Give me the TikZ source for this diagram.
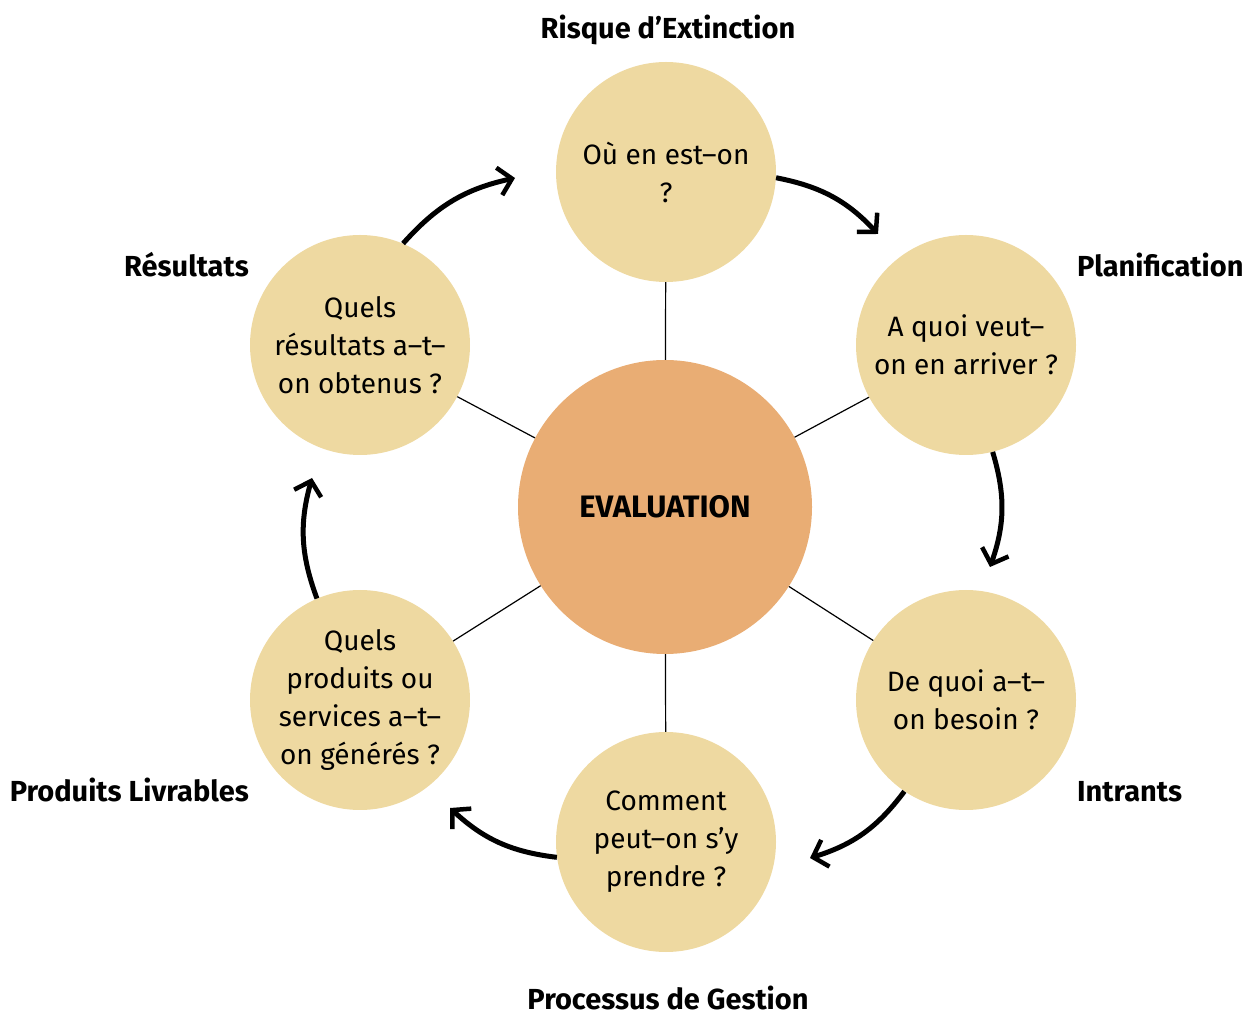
\documentclass[tikz,border=0pt]{standalone}
\usepackage{fontspec}
\setmainfont{Fira Sans}
\usetikzlibrary{arrows.meta}
\definecolor{sat}{HTML}{EED9A1}
\definecolor{mid}{HTML}{E9AD74}
\tikzset{
  satnode/.style={circle,fill=sat,minimum size=220pt,inner sep=0pt,align=center,
    font=\fontsize{28}{38}\selectfont},
  midnode/.style={circle,fill=mid,minimum size=294pt,inner sep=0pt,
    font=\fontsize{31}{36}\selectfont\bfseries},
  title/.style={font=\fontsize{29}{34}\selectfont\bfseries,inner sep=0pt},
  spoke/.style={line width=1.2pt},
  cyc/.style={line width=5pt,-{Straight Barb[length=13pt,width=28pt,line width=4.5pt]},bend left=18}
}
\begin{document}
\begin{tikzpicture}[x=1pt,y=1pt]
\useasboundingbox (0,0) rectangle (1250,1015);
\node[midnode] (c) at (665,508) {EVALUATION};
\node[satnode] (n1) at (666,843) {Où en est–on\\?};
\node[satnode] (n2) at (966,670) {A quoi veut–\\on en arriver ?};
\node[satnode] (n3) at (966,315) {De quoi a–t–\\on besoin ?};
\node[satnode] (n4) at (666,173) {Comment\\peut–on s’y\\prendre ?};
\node[satnode] (n5) at (360,315) {Quels\\produits ou\\services a–t–\\on générés ?};
\node[satnode] (n6) at (360,670) {Quels\\résultats a–t–\\on obtenus ?};
\foreach \n in {n1,n2,n3,n4,n5,n6} \draw[spoke] (c) -- (\n);
\node[title,anchor=base] (t1) at (668,976) {Risque d’Extinction};
\node[title,anchor=base west] (t2) at (1077,738) {Planification};
\node[title,anchor=base west] (t3) at (1077,213) {Intrants};
\node[title,anchor=base] (t4) at (668,6) {Processus de Gestion};
\node[title,anchor=base east] (t5) at (249,213) {Produits Livrables};
\node[title,anchor=base east] (t6) at (249,738) {Résultats};
\coordinate (e1) at (878,781);
\coordinate (e2) at (990,448);
\coordinate (e3) at (810,157);
\coordinate (e4) at (450,207);
\coordinate (e5) at (312,537);
\coordinate (e6) at (515,837);
\draw[cyc] (n1.-3) to (e1);
\draw[cyc] (n2.-76) to (e2);
\draw[cyc] (n3.-124) to (e3);
\draw[cyc] (n4.-172) to (e4);
\draw[cyc] (n5.113) to (e5);
\draw[cyc] (n6.67) to (e6);
\end{tikzpicture}
\end{document}
